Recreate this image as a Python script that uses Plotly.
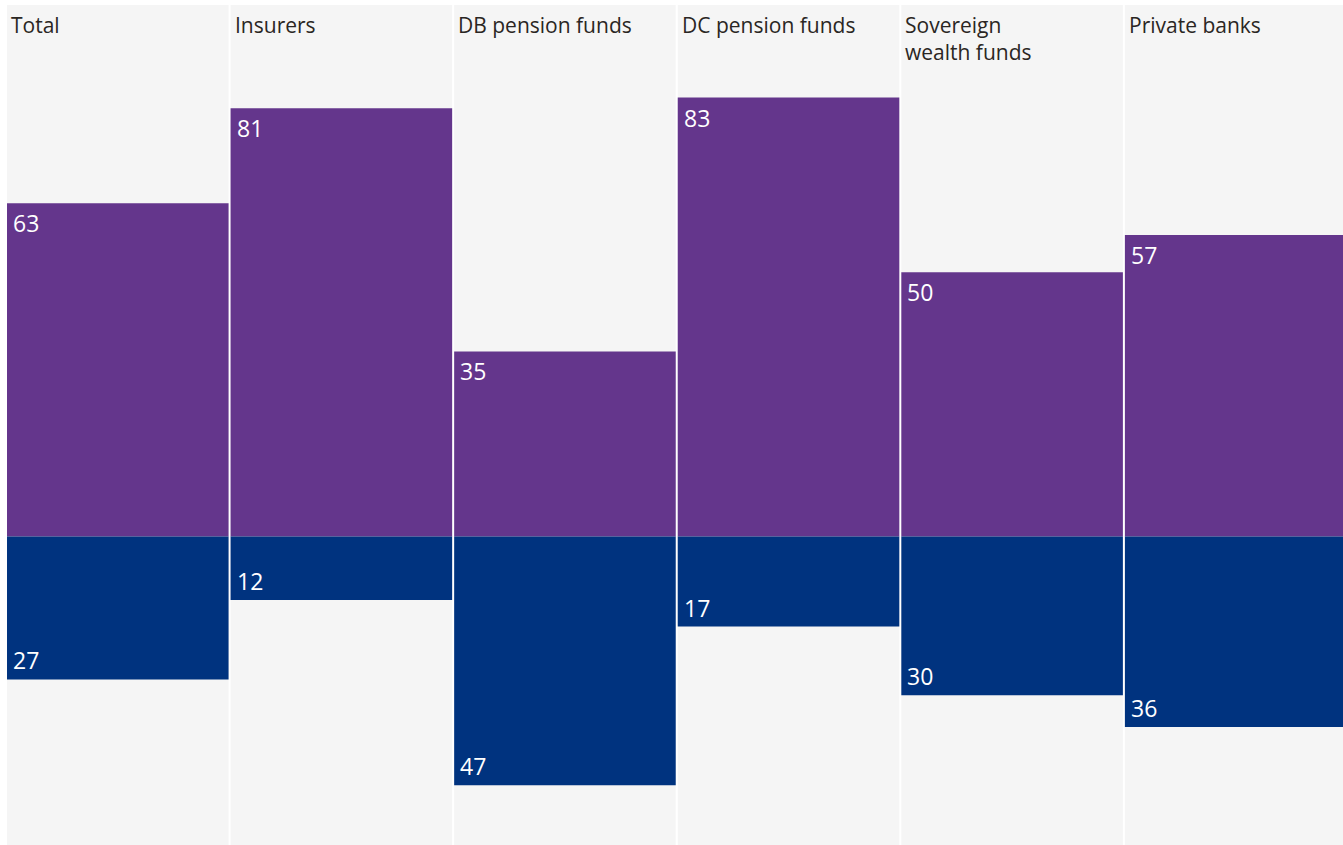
import plotly.graph_objects as go

categories = ["Total", "Insurers", "DB pension funds", "DC pension funds", "Sovereign<br>wealth funds", "Private banks"]
positive_values = [63, 81, 35, 83, 50, 57]
negative_values = [27, 12, 47, 17, 30, 36]

Y_MIN, Y_MAX = -58.3, 100.5
PURPLE = "#64368c"
NAVY = "#00337f"
BG = "#f5f5f5"
FONT = "Open Sans"

x = list(range(len(categories)))

fig = go.Figure()
fig.add_trace(go.Bar(x=x, y=[Y_MAX - Y_MIN] * len(x), base=[Y_MIN] * len(x),
                     marker=dict(color=BG, line=dict(width=0)), hoverinfo="skip", showlegend=False))
fig.add_trace(go.Bar(x=x, y=positive_values, marker=dict(color=PURPLE, line=dict(width=0)), showlegend=False))
fig.add_trace(go.Bar(x=x, y=[-v for v in negative_values], marker=dict(color=NAVY, line=dict(width=0)), showlegend=False))

annotations = []
for i, (c, p, n) in enumerate(zip(categories, positive_values, negative_values)):
    annotations.append(dict(x=i - 0.5, y=Y_MAX, xref="x", yref="y", text=c, showarrow=False,
                            xanchor="left", yanchor="top", align="left", xshift=3, yshift=-4,
                            font=dict(family=FONT, size=21, color="#2a2623")))
    annotations.append(dict(x=i - 0.5, y=p, xref="x", yref="y", text=str(p), showarrow=False,
                            xanchor="left", yanchor="top", xshift=5, yshift=-2,
                            font=dict(family=FONT, size=23, color="white")))
    annotations.append(dict(x=i - 0.5, y=-n, xref="x", yref="y", text=str(n), showarrow=False,
                            xanchor="left", yanchor="bottom", xshift=5, yshift=1,
                            font=dict(family=FONT, size=23, color="white")))

fig.update_layout(
    width=1343, height=845,
    margin=dict(l=6, r=0, t=5, b=0),
    paper_bgcolor="white", plot_bgcolor="white",
    barmode="overlay", bargap=0.009,
    xaxis=dict(visible=False, range=[-0.5, 5.48], fixedrange=True),
    yaxis=dict(visible=False, range=[Y_MIN, Y_MAX], fixedrange=True),
    annotations=annotations,
)

fig.write_html("out.html", config={"displayModeBar": False},
               post_script="document.body.style.margin='0';document.body.style.overflow='hidden';")
